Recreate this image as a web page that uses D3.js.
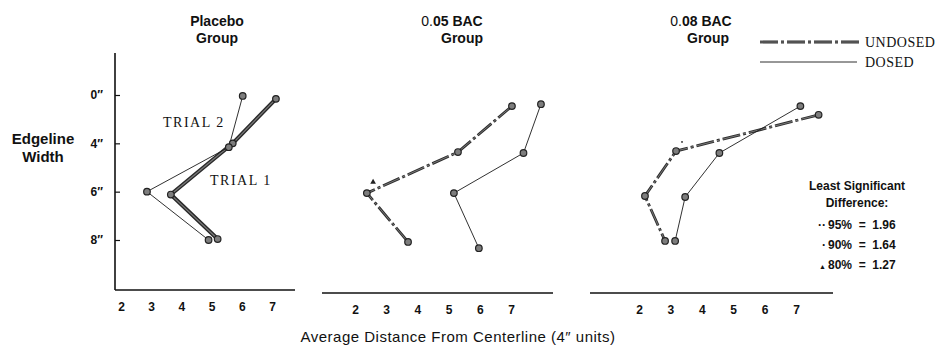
<!DOCTYPE html>
<html lang="en">
<head>
<meta charset="utf-8">
<title>Edgeline Width</title>
<script src="https://d3js.org/d3.v7.min.js"></script>
<style>
  body { margin: 0; background: #fff; }
  text { fill: #111; }
  .sans { font-family: "Liberation Sans", Arial, Helvetica, sans-serif; }
  .type { font-family: "Liberation Serif", "DejaVu Serif", serif; }
</style>
</head>
<body>
<div id="chart"></div>
<script>
// values (x = distance in 4" units, y = edgeline row, 0..3)
var edgeLabels = ["0\u2033", "4\u2033", "6\u2033", "8\u2033"];
var xTickValues = [2, 3, 4, 5, 6, 7];

var placeboTrial1X = [7.13, 5.7, 3.65, 5.2];
var placeboTrial1Y = [0.08, 1.0, 2.06, 2.98];
var placeboTrial2X = [6.03, 5.57, 2.86, 4.9];
var placeboTrial2Y = [0.02, 1.08, 2.0, 3.0];

var bac05UndosedX = [7.03, 5.3, 2.38, 3.7];
var bac05UndosedY = [0.23, 1.18, 2.03, 3.04];
var bac05DosedX = [7.96, 7.4, 5.17, 5.97];
var bac05DosedY = [0.19, 1.2, 2.03, 3.17];

var bac08UndosedX = [7.72, 3.18, 2.19, 2.83];
var bac08UndosedY = [0.41, 1.16, 2.09, 3.02];
var bac08DosedX = [7.14, 4.56, 3.47, 3.15];
var bac08DosedY = [0.23, 1.2, 2.11, 3.02];

var lsdLabels = ["95%  =  1.96", "90%  =  1.64", "80%  =  1.27"];
var lsdMarks = ["\u00b7\u00b7", "\u00b7", "\u25b2"];

// significance marks placed on the chart
var sigPanel = [1, 2];
var sigType = ["tri", "dot"];
var sigX = [2.58, 3.37];
var sigY = [1.8, 0.97];

var width = 939, height = 349;

var svg = d3.select("#chart").append("svg")
  .attr("width", width)
  .attr("height", height);

// shared row scale
var y = d3.scaleLinear().domain([0, 3]).range([95, 240]);

var panels = [
  { t1: "Placebo", t2: "Group", tx1: 217, tx2: 217, x2: 121, x7: 272, left: 115, right: 295, axisY: 290, yAxis: true,
    series: [
      { xs: placeboTrial1X, ys: placeboTrial1Y, style: "thick" },
      { xs: placeboTrial2X, ys: placeboTrial2Y, style: "thin" }
    ] },
  { t1: "0.05 BAC", t2: "Group", tx1: 452, tx2: 462, x2: 355, x7: 511, left: 322, right: 553, axisY: 293, yAxis: false,
    series: [
      { xs: bac05UndosedX, ys: bac05UndosedY, style: "dash" },
      { xs: bac05DosedX, ys: bac05DosedY, style: "thin" }
    ] },
  { t1: "0.08 BAC", t2: "Group", tx1: 701, tx2: 708, x2: 639, x7: 796, left: 590, right: 833, axisY: 293, yAxis: false,
    series: [
      { xs: bac08UndosedX, ys: bac08UndosedY, style: "dash" },
      { xs: bac08DosedX, ys: bac08DosedY, style: "thin" }
    ] }
];

function drawStyled(g, pathD, style) {
  if (style == "thick") {
    g.append("path").attr("d", pathD).attr("fill", "none")
      .attr("stroke", "#2a2a2a").attr("stroke-width", 4).attr("stroke-linejoin", "round");
    g.append("path").attr("d", pathD).attr("fill", "none")
      .attr("stroke", "#7a7a7a").attr("stroke-width", 1.2);
  } else if (style == "dash") {
    g.append("path").attr("d", pathD).attr("fill", "none")
      .attr("stroke", "#2e2e2e").attr("stroke-width", 2.8)
      .attr("stroke-dasharray", "18,3,3,3");
    g.append("path").attr("d", pathD).attr("fill", "none")
      .attr("stroke", "#8a8a8a").attr("stroke-width", 0.8)
      .attr("stroke-dasharray", "18,3,3,3");
  } else {
    g.append("path").attr("d", pathD).attr("fill", "none")
      .attr("stroke", "#1a1a1a").attr("stroke-width", 0.9);
  }
}

var xScales = [];

panels.forEach(function(p, i) {
  var g = svg.append("g");
  var x = d3.scaleLinear().domain([2, 7]).range([p.x2, p.x7]);
  xScales.push(x);

  // titles
  var t = g.append("text").attr("class", "sans").attr("x", p.tx1).attr("y", 26)
    .attr("text-anchor", "middle").style("font-size", "14px");
  if (i == 0) {
    t.style("font-weight", "bold").text(p.t1);
  } else {
    t.append("tspan").text(p.t1.slice(0, 2));
    t.append("tspan").style("font-weight", "bold").text(p.t1.slice(2));
  }
  g.append("text").attr("class", "sans").attr("x", p.tx2).attr("y", 43)
    .attr("text-anchor", "middle").style("font-size", "14px").style("font-weight", "bold")
    .text(p.t2);

  // x axis
  g.append("line")
    .attr("x1", p.left).attr("x2", p.right)
    .attr("y1", p.axisY).attr("y2", p.axisY)
    .attr("stroke", "#111").attr("stroke-width", 1.6);
  var xa = g.append("g")
    .attr("transform", "translate(0," + p.axisY + ")")
    .call(d3.axisBottom(x).tickValues(xTickValues).tickSize(0).tickPadding(12).tickFormat(d3.format("d")));
  xa.select(".domain").remove();
  xa.selectAll("text").attr("class", "sans").style("font-size", "12px").style("font-weight", "bold").attr("fill", "#111");

  // y axis (first panel only)
  if (p.yAxis) {
    g.append("line")
      .attr("x1", p.left).attr("x2", p.left)
      .attr("y1", 53).attr("y2", p.axisY)
      .attr("stroke", "#111").attr("stroke-width", 1.6);
    var ya = g.append("g")
      .attr("transform", "translate(" + p.left + ",0)")
      .call(d3.axisLeft(y).tickValues([0, 1, 2, 3]).tickSizeInner(-5).tickSizeOuter(0).tickPadding(12)
        .tickFormat(function(d) { return edgeLabels[d]; }));
    ya.select(".domain").remove();
    ya.selectAll("line").attr("stroke", "#111").attr("stroke-width", 1.2);
    ya.selectAll("text").attr("class", "sans").style("font-size", "12px").style("font-weight", "bold").attr("fill", "#111");
  }

  // series
  var line = d3.line().x(function(d) { return x(d[0]); }).y(function(d) { return y(d[1]); });
  p.series.forEach(function(s) {
    var pts = s.xs.map(function(v, k) { return [v, s.ys[k]]; });
    drawStyled(g, line(pts), s.style);
  });
  p.series.forEach(function(s) {
    var pts = s.xs.map(function(v, k) { return [v, s.ys[k]]; });
    g.selectAll(null).data(pts).enter().append("circle")
      .attr("cx", function(d) { return x(d[0]); })
      .attr("cy", function(d) { return y(d[1]); })
      .attr("r", 3.3)
      .attr("fill", "#7d7d7d")
      .attr("stroke", "#222")
      .attr("stroke-width", 1.2);
  });
});

// trial labels
svg.append("text").attr("class", "type").attr("x", 163).attr("y", 127)
  .style("font-size", "14px").style("letter-spacing", "1.5px").text("TRIAL 2");
svg.append("text").attr("class", "type").attr("x", 210).attr("y", 185)
  .style("font-size", "14px").style("letter-spacing", "1.5px").text("TRIAL 1");

// significance marks on the chart
sigType.forEach(function(tp, i) {
  var x = xScales[sigPanel[i]];
  if (tp == "tri") {
    svg.append("path")
      .attr("d", d3.symbol().type(d3.symbolTriangle).size(14)())
      .attr("transform", "translate(" + x(sigX[i]) + "," + y(sigY[i]) + ")")
      .attr("fill", "#222");
  } else {
    svg.append("circle").attr("cx", x(sigX[i])).attr("cy", y(sigY[i])).attr("r", 0.9).attr("fill", "#222");
  }
});

// y title
svg.append("text").attr("class", "sans").attr("x", 43).attr("y", 144)
  .attr("text-anchor", "middle").style("font-size", "15px").style("font-weight", "bold").text("Edgeline");
svg.append("text").attr("class", "sans").attr("x", 43).attr("y", 162)
  .attr("text-anchor", "middle").style("font-size", "15px").style("font-weight", "bold").text("Width");

// x title
svg.append("text").attr("class", "sans").attr("x", 458).attr("y", 342)
  .attr("text-anchor", "middle").style("font-size", "15px").style("letter-spacing", "0.5px")
  .text("Average Distance From Centerline (4\u2033 units)");

// legend
var lg = svg.append("g");
drawStyled(lg, "M760,42L860,42", "dash");
drawStyled(lg, "M760,62L857,62", "thin");
lg.append("text").attr("class", "type").attr("x", 865).attr("y", 47)
  .style("font-size", "14px").style("letter-spacing", "0.5px").text("UNDOSED");
lg.append("text").attr("class", "type").attr("x", 865).attr("y", 67)
  .style("font-size", "14px").style("letter-spacing", "0.5px").text("DOSED");

// least significant difference box
svg.append("text").attr("class", "sans").attr("x", 857).attr("y", 190)
  .attr("text-anchor", "middle").style("font-size", "12px").style("font-weight", "bold").text("Least Significant");
svg.append("text").attr("class", "sans").attr("x", 857).attr("y", 207)
  .attr("text-anchor", "middle").style("font-size", "12px").style("font-weight", "bold").text("Difference:");
lsdLabels.forEach(function(s, i) {
  var t = svg.append("text").attr("class", "sans").attr("y", 229 + i * 20)
    .style("font-size", "12px").style("font-weight", "bold").style("white-space", "pre");
  t.append("tspan").attr("text-anchor", "end").attr("x", 826)
    .style("font-size", i == 2 ? "7px" : "12px").text(lsdMarks[i]);
  t.append("tspan").attr("x", 828).text(s);
});
</script>
</body>
</html>
